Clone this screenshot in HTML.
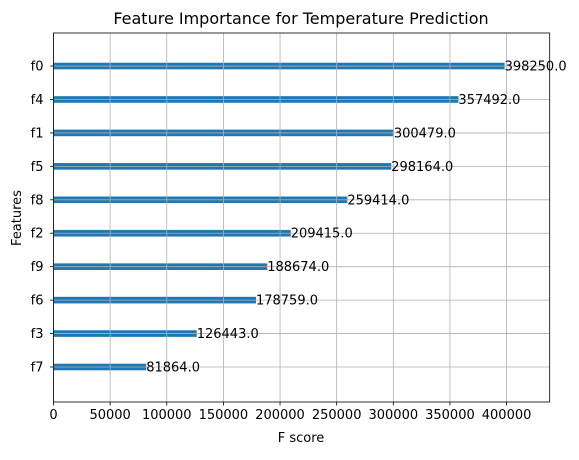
<!DOCTYPE html>
<html><head><meta charset="utf-8"><style>
body{margin:0;background:#fff;font-family:"Liberation Sans","DejaVu Sans",sans-serif;}
</style></head><body>
<svg id="chart" width="579" height="455" xmlns="http://www.w3.org/2000/svg">
<rect width="579" height="455" fill="#fff"/>
<text x="301" y="24" font-size="16" text-anchor="middle" fill="#000" font-family="DejaVu Sans, sans-serif">Feature Importance for Temperature Prediction</text>
<g id="plot"></g>
<text x="301" y="442" font-size="13" text-anchor="middle" font-family="DejaVu Sans, sans-serif">F score</text>
<text x="21" y="218" font-size="13" text-anchor="middle" transform="rotate(-90 21 218)" font-family="DejaVu Sans, sans-serif">Features</text>
</svg>
<script>
const features = ["f7","f3","f6","f9","f2","f8","f5","f1","f4","f0"];
const scores = [81864,126443,178759,188674,209415,259414,298164,300479,357492,398250];
const xTicks = [0,50000,100000,150000,200000,250000,300000,350000,400000];

const L=53.5,R=549.7,T=33,B=402;
const xMax = Math.max(...scores)*1.1;
const x = v => L + v/xMax*(R-L);
const y0=367, step=33.44;
const y = i => y0 - i*step;
const ns="http://www.w3.org/2000/svg";
const g=document.getElementById('plot');
function mk(tag,attrs){const e=document.createElementNS(ns,tag);for(const k in attrs)e.setAttribute(k,attrs[k]);g.appendChild(e);return e;}
// bars
features.forEach((f,i)=>{
  const b=mk('rect',{x:L,y:y(i)-3.3,width:x(scores[i])-L,height:6.6,fill:'#1f77b4'});
  
  
});
// grid
xTicks.forEach(t=>{
  const l=mk('line',{x1:x(t),x2:x(t),y1:T,y2:B,stroke:'#b0b0b0','stroke-width':0.8});
  
  
  const tk=mk('line',{x1:x(t),x2:x(t),y1:B,y2:B+3.5,stroke:'#000','stroke-width':0.8});
  
  
  const tx=mk('text',{x:x(t),y:B+17,'font-size':13,'text-anchor':'middle','font-family':'DejaVu Sans, sans-serif'});
  tx.textContent=t;
  
  
});
features.forEach((f,i)=>{
  const l=mk('line',{x1:L,x2:R,y1:y(i),y2:y(i),stroke:'#b0b0b0','stroke-width':0.8});
  
  
  const tk=mk('line',{x1:L-3.5,x2:L,y1:y(i),y2:y(i),stroke:'#000','stroke-width':0.8});
  
  
  const tx=mk('text',{x:L-10,y:y(i)+4.5,'font-size':13,'text-anchor':'end','font-family':'DejaVu Sans, sans-serif'});
  tx.textContent=f;
  
  
  const v=mk('text',{x:x(scores[i]),y:y(i)+4.5,'font-size':13,'font-family':'DejaVu Sans, sans-serif'});
  v.textContent=scores[i].toFixed(1);
  
  
});
const fr=mk('rect',{x:L,y:T,width:R-L,height:B-T,fill:'none',stroke:'#000','stroke-width':0.8});


</script>
</body></html>
